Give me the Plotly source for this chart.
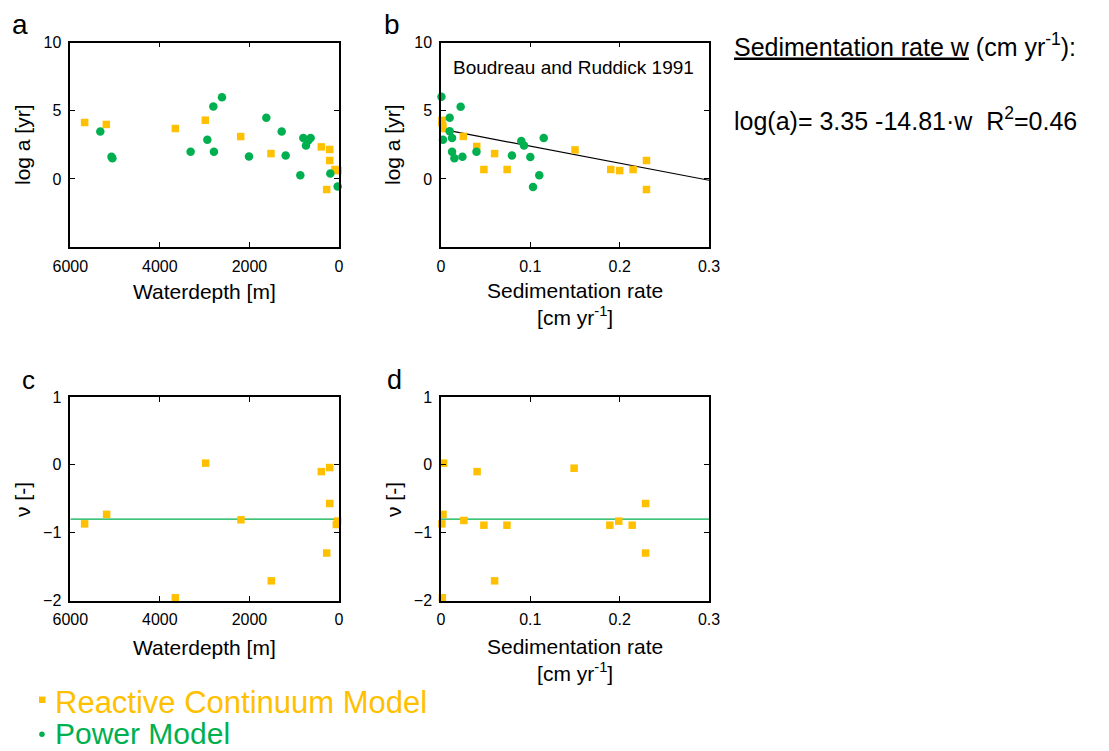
import plotly.graph_objects as go

# ---------------- data ----------------
# panel a: log a vs water depth
a_rcm_depth = [5680, 5196, 3655, 2985, 2196, 1519, 395, 208, 208, 275, 89, 22]
a_rcm_loga = [4.14, 4.0, 3.70, 4.31, 3.11, 1.86, 2.35, 2.16, 1.35, -0.78, 0.69, 0.61]
a_pow_depth = [5330, 5080, 5060, 3313, 2940, 2806, 2792, 2613, 2010, 1623, 1280, 1191,
               864, 797, 737, 685, 633, 194, 30]
a_pow_loga = [3.48, 1.62, 1.52, 1.99, 2.87, 5.32, 1.99, 6.0, 1.64, 4.49, 3.48, 1.72,
              0.27, 3.01, 2.45, 2.82, 3.01, 0.39, -0.56]

# panel b: log a vs sedimentation rate
b_rcm_w = [0.001, 0.001, 0.002, 0.002, 0.025, 0.040, 0.048, 0.060, 0.074, 0.150,
           0.190, 0.200, 0.215, 0.230, 0.230]
b_rcm_loga = [4.3, 4.1, 3.9, 3.7, 3.12, 2.38, 0.69, 1.86, 0.69, 2.13,
              0.69, 0.61, 0.69, 1.35, -0.78]
b_pow_w = [0.0005, 0.022, 0.0097, 0.0097, 0.0124, 0.0022, 0.0124, 0.015, 0.024, 0.0397,
           0.0794, 0.0899, 0.0929, 0.100, 0.115, 0.110, 0.103]
b_pow_loga = [6.03, 5.3, 4.49, 3.5, 3.01, 2.87, 2.0, 1.52, 1.63, 2.0,
              1.72, 2.79, 2.45, 1.6, 3.01, 0.27, -0.59]
fit_w = [0.002, 0.3]
fit_loga = [3.63, -0.1]

# panel c: nu vs water depth
c_depth = [5680, 5189, 3655, 2978, 2189, 1511, 395, 208, 208, 275, 60, 30]
c_nu = [-0.87, -0.73, -1.96, 0.025, -0.81, -1.71, -0.10, -0.04, -0.57, -1.30, -0.88, -0.83]
c_line_depth = [6000, 0]

# panel d: nu vs sedimentation rate
d_w = [0.003, 0.0022, 0.001, 0.0015, 0.0256, 0.0404, 0.048, 0.060, 0.0738, 0.149,
       0.189, 0.199, 0.214, 0.229, 0.229]
d_nu = [0.025, -0.73, -0.87, -1.96, -0.82, -0.10, -0.89, -1.71, -0.89, -0.05,
        -0.89, -0.83, -0.89, -0.57, -1.30]
d_line_w = [0, 0.3]
nu_mean = [-0.80, -0.80]

depth_ticks = [6000, 4000, 2000, 0]
rate_ticks = [0, 0.1, 0.2, 0.3]
rate_ticktext = ["0", "0.1", "0.2", "0.3"]
loga_ticks = [0, 5, 10]
nu_ticks = [1, 0, -1, -2]

ORANGE = "#FFC000"
GREEN = "#00B050"
FONT = "Liberation Sans, Arial, Helvetica, sans-serif"
PAGE_W, PAGE_H = 1109, 751
OFF = 8  # default page body margin
W, H = PAGE_W - OFF, PAGE_H - OFF


def px(x):
    return (x - OFF) / W


def py(y):
    return 1 - (y - OFF) / H


fig = go.Figure()


def sq(x, y, xa, ya):
    fig.add_trace(go.Scatter(x=x, y=y, mode="markers", xaxis=xa, yaxis=ya,
                             marker=dict(symbol="square", size=7.5, color=ORANGE),
                             cliponaxis=False, showlegend=False))


def circ(x, y, xa, ya):
    fig.add_trace(go.Scatter(x=x, y=y, mode="markers", xaxis=xa, yaxis=ya,
                             marker=dict(symbol="circle", size=8.5, color=GREEN),
                             cliponaxis=False, showlegend=False))


# panel a
sq(a_rcm_depth, a_rcm_loga, "x", "y")
circ(a_pow_depth, a_pow_loga, "x", "y")
# panel b
fig.add_trace(go.Scatter(x=fit_w, y=fit_loga, mode="lines", xaxis="x2", yaxis="y2",
                         line=dict(color="black", width=1.2), showlegend=False))
sq(b_rcm_w, b_rcm_loga, "x2", "y2")
circ(b_pow_w, b_pow_loga, "x2", "y2")
# panel c
fig.add_trace(go.Scatter(x=c_line_depth, y=nu_mean, mode="lines", xaxis="x3", yaxis="y3",
                         line=dict(color=GREEN, width=1.3), showlegend=False))
sq(c_depth, c_nu, "x3", "y3")
# panel d
fig.add_trace(go.Scatter(x=d_line_w, y=nu_mean, mode="lines", xaxis="x4", yaxis="y4",
                         line=dict(color=GREEN, width=1.3), showlegend=False))
sq(d_w, d_nu, "x4", "y4")

common = dict(showline=True, linecolor="black", linewidth=1.5, mirror="ticks",
              ticks="inside", ticklen=5, tickwidth=1.2, tickcolor="black",
              showgrid=False, zeroline=False, automargin=False, ticklabelstandoff=4,
              tickfont=dict(size=16, color="black", family=FONT))

dom_x_left = [px(70.3), px(339)]
dom_x_right = [px(441), px(709)]
dom_y_top = [py(247), py(42.7)]
dom_y_bot = [py(600.5), py(397)]

fig.update_layout(
    xaxis=dict(domain=dom_x_left, anchor="y", range=[6000, 0], tickvals=depth_ticks, **common),
    yaxis=dict(domain=dom_y_top, anchor="x", range=[-5, 10], tickvals=loga_ticks, **common),
    xaxis2=dict(domain=dom_x_right, anchor="y2", range=[0, 0.3], tickvals=rate_ticks,
                ticktext=rate_ticktext, **common),
    yaxis2=dict(domain=dom_y_top, anchor="x2", range=[-5, 10], tickvals=loga_ticks, **common),
    xaxis3=dict(domain=dom_x_left, anchor="y3", range=[6000, 0], tickvals=depth_ticks, **common),
    yaxis3=dict(domain=dom_y_bot, anchor="x3", range=[-2, 1], tickvals=nu_ticks, **common),
    xaxis4=dict(domain=dom_x_right, anchor="y4", range=[0, 0.3], tickvals=rate_ticks,
                ticktext=rate_ticktext, **common),
    yaxis4=dict(domain=dom_y_bot, anchor="x4", range=[-2, 1], tickvals=nu_ticks, **common),
    width=W, height=H, margin=dict(l=0, r=0, t=0, b=0, autoexpand=False),
    paper_bgcolor="white", plot_bgcolor="white",
    font=dict(family=FONT, color="black"),
    showlegend=False,
)

annots = []


def txt(text, x, y, size, color="black", xanchor="center", angle=0, yanchor="middle"):
    annots.append(dict(text=text, x=px(x), y=py(y), xref="paper", yref="paper",
                       xanchor=xanchor, yanchor=yanchor, showarrow=False, borderpad=0,
                       textangle=angle, font=dict(size=size, color=color, family=FONT)))


# panel letters
txt("a", 11, 24, 28, xanchor="left")
txt("b", 383, 24, 28, xanchor="left")
txt("c", 21, 380, 26, xanchor="left")
txt("d", 386, 379.5, 27, xanchor="left")

# axis titles
txt("Waterdepth [m]", 204.6, 291.5, 21)
txt("log a [yr]", 22, 145, 21, angle=-90)
txt("Sedimentation rate<br>[cm yr<sup>-1</sup>]", 575, 304, 21)
txt("log a [yr]", 392, 145, 21, angle=-90)
txt("Waterdepth [m]", 204.6, 647, 21)
txt("ν [-]", 22, 500, 21, angle=-90)
txt("Sedimentation rate<br>[cm yr<sup>-1</sup>]", 575, 660, 21)
txt("ν [-]", 393, 500, 21, angle=-90)

# inset text
txt("Boudreau and Ruddick 1991", 573, 67, 19)

# right-hand text
txt("<u>Sedimentation rate w</u> (cm yr<sup>-1</sup>):", 733, 44.7, 25, xanchor="left")
txt("log(a)= 3.35 -14.81·w  R<sup>2</sup>=0.46", 733, 118.5, 25, xanchor="left")

# legend text
txt("Reactive Continuum Model", 54, 702, 31, color=ORANGE, xanchor="left")
txt("Power Model", 53.5, 751, 30, color=GREEN, xanchor="left", yanchor="bottom")

fig.update_layout(annotations=annots)

fig.update_layout(shapes=[
    dict(type="rect", xref="paper", yref="paper", x0=px(39), x1=px(45.5), y0=py(703), y1=py(696.5),
         fillcolor=ORANGE, line=dict(width=0)),
    dict(type="circle", xref="paper", yref="paper", x0=px(39.2), x1=px(44.7), y0=py(737), y1=py(731.5),
         fillcolor=GREEN, line=dict(width=0)),
])

fig.write_html("out.html")
